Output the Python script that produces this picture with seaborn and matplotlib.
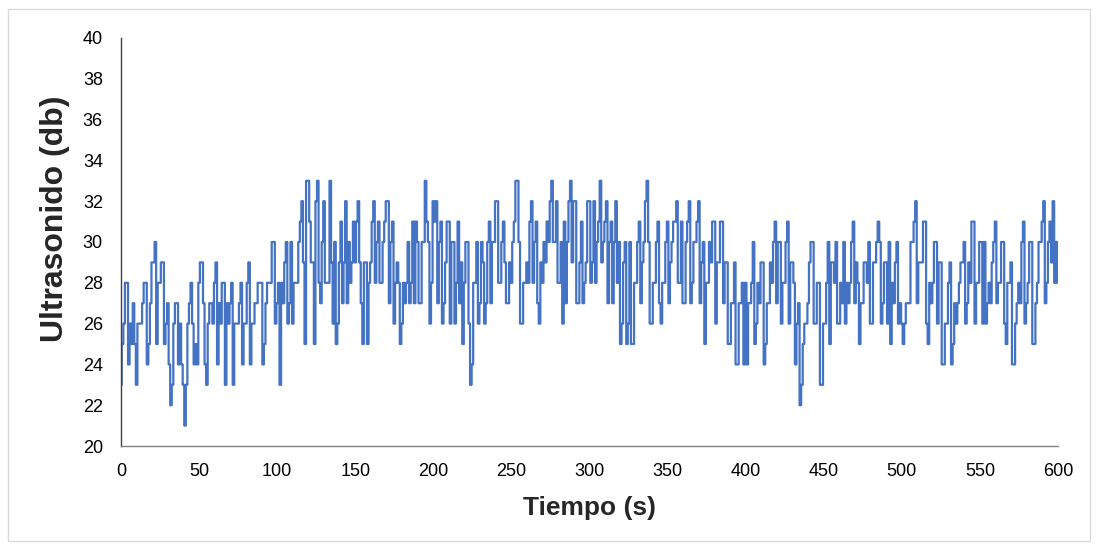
import numpy as np
import pandas as pd
import seaborn as sns
import matplotlib.pyplot as plt
from matplotlib.patches import Rectangle

# Ultrasonido (db), one reading per second, 0..600 s
seg_000 = [23, 25, 26, 28, 28, 24, 26, 25, 27, 25,
           23, 26, 26, 26, 27, 28, 28, 24, 25, 27,
           29, 29, 30, 25, 28, 28, 29, 29, 25, 26,
           27, 24, 22, 23, 26, 27, 27, 24, 26, 24,
           23, 21, 23, 26, 27, 28, 26, 24, 25, 24]
seg_050 = [28, 29, 29, 27, 24, 23, 26, 27, 27, 26,
           28, 29, 24, 27, 26, 28, 28, 23, 27, 26,
           27, 28, 23, 26, 26, 26, 27, 28, 24, 26,
           26, 28, 29, 24, 26, 26, 27, 27, 28, 28,
           28, 24, 25, 27, 28, 28, 28, 30, 30, 26]
seg_100 = [27, 28, 23, 28, 27, 29, 30, 26, 27, 30,
           26, 28, 28, 28, 30, 31, 32, 29, 25, 33,
           33, 31, 29, 29, 25, 32, 33, 28, 27, 30,
           32, 28, 28, 28, 33, 29, 26, 30, 25, 26,
           29, 31, 27, 29, 32, 27, 30, 28, 29, 31]
seg_150 = [29, 31, 32, 29, 27, 25, 29, 29, 25, 28,
           29, 31, 32, 28, 30, 31, 28, 28, 30, 31,
           32, 32, 27, 30, 31, 26, 28, 29, 28, 25,
           26, 28, 27, 28, 30, 27, 28, 31, 27, 31,
           30, 27, 27, 30, 30, 33, 31, 30, 26, 28]
seg_200 = [32, 31, 32, 27, 30, 31, 26, 27, 29, 31,
           31, 26, 30, 30, 26, 28, 31, 27, 29, 25,
           28, 30, 30, 26, 23, 24, 28, 28, 30, 26,
           27, 30, 29, 26, 27, 30, 31, 27, 30, 30,
           32, 32, 28, 28, 30, 31, 29, 27, 27, 29]
seg_250 = [28, 30, 31, 33, 33, 30, 26, 26, 28, 28,
           29, 28, 31, 32, 28, 30, 31, 27, 26, 29,
           28, 30, 29, 31, 30, 32, 33, 30, 30, 32,
           28, 28, 30, 26, 31, 27, 30, 32, 33, 29,
           32, 32, 27, 27, 29, 31, 27, 28, 29, 32]
seg_300 = [32, 28, 29, 32, 28, 30, 31, 33, 29, 30,
           31, 32, 27, 30, 31, 27, 30, 32, 28, 30,
           25, 26, 29, 30, 25, 26, 30, 25, 25, 28,
           28, 30, 31, 27, 29, 30, 32, 33, 30, 26,
           26, 28, 28, 30, 31, 27, 26, 28, 28, 30]
seg_350 = [31, 27, 29, 30, 31, 31, 32, 28, 28, 31,
           27, 27, 30, 31, 32, 27, 28, 30, 30, 31,
           32, 27, 29, 30, 25, 28, 28, 30, 29, 31,
           31, 26, 29, 29, 31, 31, 27, 29, 29, 25,
           25, 27, 27, 29, 24, 24, 27, 27, 28, 24]
seg_400 = [28, 24, 27, 27, 28, 30, 25, 26, 28, 27,
           29, 29, 24, 25, 27, 27, 29, 28, 30, 31,
           27, 30, 30, 26, 28, 28, 30, 31, 26, 29,
           29, 28, 24, 26, 27, 22, 23, 25, 26, 26,
           27, 29, 30, 30, 26, 26, 28, 28, 23, 23,
           26, 26, 28]
seg_453 = [30, 25, 29, 29, 28, 30, 26, 26, 28, 27,
           30, 26, 28, 27, 28, 30, 31, 27, 29, 28,
           25, 27, 27, 29, 29, 28, 30, 26, 26, 29,
           29, 30, 31, 30, 26, 27, 29, 29, 26, 30,
           25, 28, 27, 29, 30, 26, 27, 26]
seg_501 = [25, 26, 27, 27, 27, 30, 30, 31, 32, 27,
           29, 29, 29, 31, 31, 26, 25, 28, 27, 28,
           30, 30, 26, 29, 29, 24, 24, 26, 26, 28,
           29, 24, 25, 27, 26, 27, 28, 29, 29, 30,
           26, 27, 29, 28, 31, 31, 26, 28, 28, 30,
           30, 26]
seg_553 = [30, 26, 27, 28, 27, 29, 30, 31, 27, 28,
           28, 30, 30, 26, 25, 28, 28, 29, 24, 24,
           26, 27, 28, 27, 30, 31, 26, 27, 28, 30,
           30, 25, 25, 27, 28, 30, 30, 31, 32, 27,
           28, 30, 31, 29, 32, 28, 30, 28]

ultrasonido = (seg_000 + seg_050 + seg_100 + seg_150 + seg_200 + seg_250
               + seg_300 + seg_350 + seg_400 + seg_453 + seg_501 + seg_553)
tiempo = np.arange(len(ultrasonido))

x_ticks = list(range(0, 601, 50))
y_ticks = list(range(20, 41, 2))

df = pd.DataFrame({"Tiempo (s)": tiempo, "Ultrasonido (db)": ultrasonido})

sns.set_style("white")
plt.rcParams['font.family'] = ['Liberation Sans', 'DejaVu Sans']

fig = plt.figure(figsize=(10.97, 5.49), dpi=100)
ax = fig.add_axes([0.1103, 0.1876, 0.8542, 0.7432])

sns.lineplot(data=df, x="Tiempo (s)", y="Ultrasonido (db)", ax=ax,
             color="#4472C4", linewidth=1.6, drawstyle="steps-mid")

ax.set_xlim(0, 600)
ax.set_ylim(20, 40)
ax.set_xticks(x_ticks)
ax.set_yticks(y_ticks)
ax.tick_params(axis="both", labelsize=13, length=0, colors="#000000")
ax.tick_params(axis="x", pad=12)
ax.tick_params(axis="y", pad=13)

ax.set_xlabel("Tiempo (s)", fontsize=19, fontweight="bold", labelpad=12)
ax.set_ylabel("Ultrasonido (db)", fontsize=23, fontweight="bold")
ax.yaxis.set_label_coords(-0.054, 0.557)

for side in ["top", "right"]:
    ax.spines[side].set_visible(False)
ax.spines["left"].set_color("#404040")
ax.spines["left"].set_linewidth(1.0)
ax.spines["bottom"].set_color("#808080")
ax.spines["bottom"].set_linewidth(1.0)

# chart area border
fig.patches.append(Rectangle((8 / 1097, 8 / 549), 1082 / 1097, 532 / 549,
                             transform=fig.transFigure, fill=False,
                             edgecolor="#D9D9D9", linewidth=1.0))

plt.savefig("out.png", dpi=100)
